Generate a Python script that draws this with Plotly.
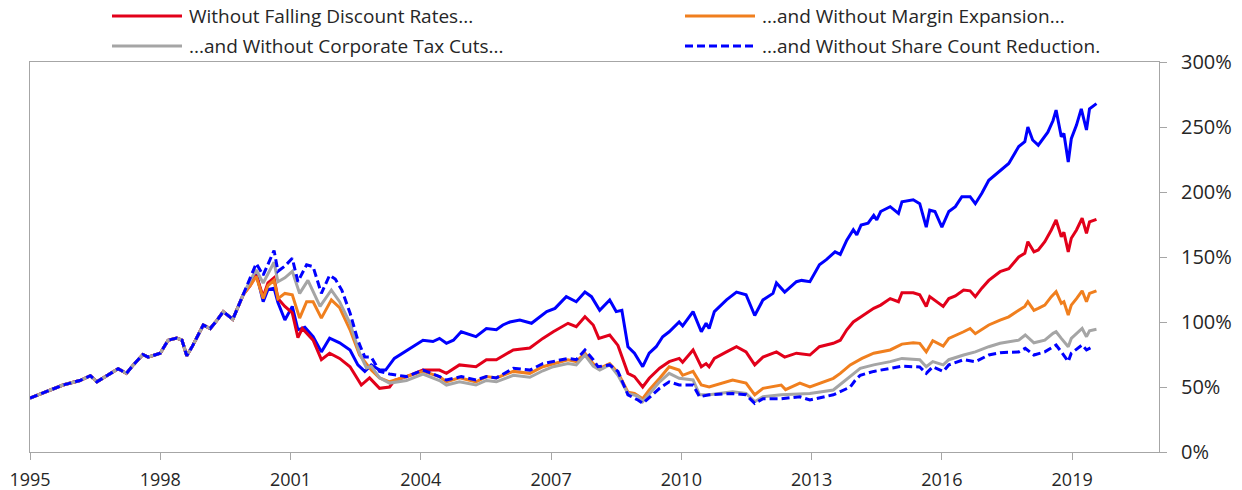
import plotly.graph_objects as go

# ---- data (decimal years, % values) ----
# shared path before the series diverge
early_years = [1995.0, 1995.26, 1995.54, 1995.76, 1996.15, 1996.39, 1996.54, 1996.77,
               1997.03, 1997.22, 1997.38, 1997.6, 1997.72, 1998.0, 1998.18, 1998.38,
               1998.5, 1998.61, 1998.75, 1998.99, 1999.15, 1999.3, 1999.45, 1999.67, 1999.91]
early_vals = [41.5, 45, 49, 51.5, 55, 58.7, 54, 59,
              64, 60.5, 67, 75, 73, 76, 86, 87.6,
              86, 74, 82, 97.7, 95, 101, 108, 102, 121]

sp500_years = [2000.07, 2000.21, 2000.37, 2000.48, 2000.62, 2000.71, 2000.87, 2001.04, 2001.17, 2001.33,
               2001.52, 2001.71, 2001.9, 2002.13, 2002.37, 2002.55, 2002.71, 2002.86, 2003.05, 2003.19,
               2003.39, 2003.62, 2003.77, 2004.05, 2004.28, 2004.43, 2004.59, 2004.75, 2004.93, 2005.27,
               2005.51, 2005.74, 2005.89, 2006.05, 2006.28, 2006.55, 2006.9, 2007.09, 2007.35, 2007.58,
               2007.78, 2007.93, 2008.12, 2008.35, 2008.5, 2008.63, 2008.77, 2008.92, 2009.11, 2009.26,
               2009.42, 2009.57, 2009.72, 2009.95, 2010.03, 2010.27, 2010.46, 2010.57, 2010.64, 2010.76,
               2011.04, 2011.27, 2011.49, 2011.69, 2011.88, 2012.11, 2012.19, 2012.38, 2012.65, 2012.77,
               2012.96, 2013.18, 2013.34, 2013.54, 2013.66, 2013.81, 2013.96, 2014.04, 2014.14, 2014.3,
               2014.43, 2014.5, 2014.59, 2014.81, 2015.0, 2015.08, 2015.34, 2015.49, 2015.64, 2015.72,
               2015.84, 2016.0, 2016.16, 2016.31, 2016.46, 2016.65, 2016.77, 2016.92, 2017.08, 2017.31,
               2017.54, 2017.77, 2017.91, 2017.98, 2018.09, 2018.22, 2018.37, 2018.44, 2018.56, 2018.63,
               2018.75, 2018.81, 2018.91, 2018.98, 2019.1, 2019.21, 2019.33, 2019.4, 2019.56]
sp500_vals = [130, 138, 115.6, 125, 126, 115, 101.5, 112, 94, 96,
              88.7, 77, 87.6, 84, 78.5, 67, 62, 67, 63, 63,
              72, 77, 80, 86, 85, 87.4, 83.6, 86, 92.5, 88.7,
              95, 94, 97.7, 100, 101.5, 99, 108, 110.5, 119.5, 115.6,
              123, 119.5, 109, 117, 108, 109, 81, 76, 65.6, 76,
              81, 88.7, 92.5, 100, 97, 108, 92.5, 99, 95, 108,
              117, 123, 121, 105, 117, 122, 130, 123, 131, 132,
              131, 144, 148, 154, 152, 163, 171, 167, 174.6, 176,
              182, 178.5, 185, 188.7, 183.6, 192.5, 194, 191, 173, 186,
              185, 173, 185, 188.7, 196.4, 196.4, 191, 199, 209, 215.6,
              222, 235, 238.7, 250, 240, 236, 242.5, 246, 255, 263,
              242.5, 245, 223, 241, 251.5, 264, 247.7, 264, 268]

discount_years = [2000.07, 2000.21, 2000.37, 2000.48, 2000.62, 2000.71, 2000.87, 2001.04, 2001.17, 2001.27,
                  2001.52, 2001.71, 2001.9, 2002.13, 2002.37, 2002.63, 2002.82, 2003.05, 2003.28, 2003.39,
                  2003.67, 2004.05, 2004.43, 2004.59, 2004.89, 2005.27, 2005.51, 2005.74, 2006.13, 2006.51,
                  2006.81, 2007.05, 2007.39, 2007.58, 2007.78, 2007.97, 2008.1, 2008.35, 2008.54, 2008.77,
                  2008.92, 2009.11, 2009.26, 2009.5, 2009.72, 2009.95, 2010.03, 2010.27, 2010.46, 2010.57,
                  2010.64, 2010.76, 2011.04, 2011.27, 2011.49, 2011.69, 2011.88, 2012.19, 2012.38, 2012.65,
                  2012.96, 2013.18, 2013.5, 2013.66, 2013.81, 2013.96, 2014.14, 2014.43, 2014.59, 2014.81,
                  2015.0, 2015.08, 2015.34, 2015.49, 2015.64, 2015.72, 2016.03, 2016.16, 2016.31, 2016.5,
                  2016.65, 2016.77, 2016.92, 2017.08, 2017.34, 2017.54, 2017.77, 2017.91, 2017.98, 2018.12,
                  2018.22, 2018.37, 2018.52, 2018.63, 2018.75, 2018.81, 2018.91, 2018.98, 2019.1, 2019.23,
                  2019.33, 2019.4, 2019.56]
discount_vals = [128, 136, 119.5, 130, 134, 118, 112, 107, 88, 95,
                 86, 71, 76, 72, 65.6, 51.5, 57, 49, 50, 55,
                 58, 63, 63, 60.5, 67, 65.6, 71, 71, 78.5, 80,
                 87.4, 92.5, 99, 96.4, 104, 97.7, 87.4, 90, 82, 60.5,
                 58, 50, 56.7, 64.4, 69.5, 72, 69, 78.5, 65.6, 68,
                 65.6, 72, 77, 81, 77, 67, 73, 77, 73, 76,
                 74.6, 81, 83.6, 86, 94, 100, 104, 110.5, 113, 118,
                 115.6, 122.5, 122.5, 121, 112, 119.5, 112, 118, 120, 124.6,
                 124, 119.5, 126, 132, 138.7, 141, 150, 152.8, 161.8, 154,
                 155.4, 161.8, 170.8, 178.5, 165.6, 169, 154, 164.4, 170.8, 179.8,
                 168.2, 177, 179]

margin_years = [2000.07, 2000.21, 2000.37, 2000.48, 2000.62, 2000.71, 2000.87, 2001.04, 2001.21, 2001.37,
                2001.52, 2001.71, 2001.94, 2002.13, 2002.37, 2002.59, 2002.86, 2003.05, 2003.28, 2003.67,
                2004.05, 2004.43, 2004.59, 2004.89, 2005.27, 2005.51, 2005.74, 2006.13, 2006.51, 2006.81,
                2007.05, 2007.39, 2007.58, 2007.78, 2007.97, 2008.12, 2008.35, 2008.54, 2008.77, 2008.92,
                2009.11, 2009.26, 2009.5, 2009.72, 2009.95, 2010.03, 2010.27, 2010.46, 2010.64, 2011.18,
                2011.49, 2011.69, 2011.88, 2012.3, 2012.4, 2012.73, 2012.96, 2013.5, 2013.66, 2013.89,
                2014.16, 2014.43, 2014.81, 2015.08, 2015.34, 2015.49, 2015.64, 2015.79, 2016.03, 2016.16,
                2016.5, 2016.65, 2016.77, 2017.08, 2017.34, 2017.54, 2017.77, 2017.91, 2017.98, 2018.12,
                2018.22, 2018.37, 2018.52, 2018.63, 2018.75, 2018.81, 2018.91, 2018.98, 2019.1, 2019.23,
                2019.33, 2019.4, 2019.56]
margin_vals = [128, 135, 118, 128, 132, 118, 122, 121, 103, 115.6,
               115.6, 103, 117, 111, 94, 74.6, 63, 57, 54, 58,
               62, 58, 54, 57, 54, 58, 57, 62, 60.5, 65.6,
               68, 71, 69.5, 76, 68, 64.4, 68, 61, 46, 45,
               41, 47.7, 56.7, 65.6, 63, 59, 62, 51.5, 50, 55.4,
               53, 44, 49, 51.5, 48, 53, 50, 56.7, 60.5, 67,
               72, 76, 78.5, 83, 84, 83.6, 77, 85.6, 81.5, 87.4,
               92.5, 95, 91, 97.7, 101.5, 104, 109, 112, 115.6, 109,
               110.5, 113, 119.5, 123.3, 114.4, 115.6, 105.4, 113, 118, 124,
               115.6, 122, 124]

tax_years = [2000.07, 2000.21, 2000.37, 2000.48, 2000.62, 2000.71, 2000.87, 2001.04, 2001.21, 2001.4,
             2001.68, 2001.94, 2002.13, 2002.37, 2002.59, 2002.75, 2002.86, 2003.05, 2003.28, 2003.67,
             2004.05, 2004.43, 2004.59, 2004.89, 2005.27, 2005.51, 2005.74, 2006.13, 2006.51, 2006.81,
             2007.05, 2007.39, 2007.58, 2007.78, 2007.97, 2008.12, 2008.35, 2008.54, 2008.77, 2009.0,
             2009.11, 2009.5, 2009.72, 2009.95, 2010.27, 2010.42, 2010.64, 2011.18, 2011.49, 2011.69,
             2011.88, 2012.3, 2012.73, 2012.96, 2013.5, 2013.89, 2014.12, 2014.43, 2014.81, 2015.08,
             2015.49, 2015.64, 2015.79, 2016.03, 2016.16, 2016.5, 2016.77, 2017.08, 2017.34, 2017.77,
             2017.92, 2018.12, 2018.37, 2018.56, 2018.63, 2018.75, 2018.91, 2018.98, 2019.23, 2019.33,
             2019.4, 2019.56]
tax_vals = [132, 140, 130, 137, 146, 131, 134, 139, 122, 132,
            112, 124.6, 115.6, 99, 76, 64.6, 66, 57, 53, 55,
            60, 55, 51.5, 54, 51.5, 55, 54, 59, 57.5, 62.5,
            65.6, 68, 67, 74.6, 66, 63, 67, 59, 45, 43,
            38.7, 54, 60.5, 56.7, 55.4, 44, 44, 46.4, 45, 38.7,
            42.5, 44, 45, 45, 47.7, 58, 64.4, 67, 69.5, 72,
            71, 65.6, 69.5, 67, 71, 74.6, 77, 81, 83.6, 86,
            90, 84, 86, 91.3, 92.5, 87.4, 81, 87.4, 95, 88.7,
            93.3, 94.4]

buyback_years = [2000.07, 2000.21, 2000.37, 2000.48, 2000.62, 2000.71, 2000.87, 2001.04, 2001.17, 2001.37,
                 2001.52, 2001.71, 2001.9, 2002.03, 2002.18, 2002.37, 2002.55, 2002.71, 2002.86, 2003.05,
                 2003.28, 2003.67, 2004.05, 2004.43, 2004.59, 2004.93, 2005.27, 2005.51, 2005.74, 2006.13,
                 2006.51, 2006.81, 2007.05, 2007.39, 2007.58, 2007.78, 2007.97, 2008.08, 2008.35, 2008.54,
                 2008.77, 2009.0, 2009.11, 2009.5, 2009.72, 2009.95, 2010.27, 2010.42, 2010.64, 2011.18,
                 2011.49, 2011.69, 2011.88, 2012.3, 2012.73, 2012.96, 2013.5, 2013.89, 2014.0, 2014.12,
                 2014.43, 2014.81, 2015.08, 2015.49, 2015.64, 2015.79, 2016.03, 2016.16, 2016.5, 2016.77,
                 2017.08, 2017.34, 2017.77, 2017.92, 2018.12, 2018.37, 2018.63, 2018.75, 2018.91, 2018.98,
                 2019.23, 2019.33, 2019.47]
buyback_vals = [135, 145, 136, 144, 155, 139, 143, 149, 131, 144,
                142.5, 122, 136, 133, 124.6, 107, 86, 73, 73, 62,
                60, 58, 63, 58, 55.4, 58, 55.4, 58, 57, 64.4,
                63, 68, 69.5, 72, 71, 78.5, 71, 65.6, 67, 62,
                44, 40, 37.4, 49, 54, 51.5, 51.5, 42.5, 44, 45,
                44, 37.4, 41, 41, 42.5, 40, 44, 50, 55, 59,
                62, 64.4, 66, 65.4, 60.5, 65.6, 62, 67, 71, 69.5,
                74.6, 76.4, 77, 79.8, 74.6, 77, 82.3, 77, 69.5, 76,
                82.3, 78.5, 81]

x_ticks = [1995, 1998, 2001, 2004, 2007, 2010, 2013, 2016, 2019]
y_ticks = [0, 50, 100, 150, 200, 250, 300]

series = [
    ("S&P 500", sp500_years, sp500_vals, "#0000FF", "solid"),
    ("Without Falling Discount Rates...", discount_years, discount_vals, "#E2001A", "solid"),
    ("...and Without Margin Expansion...", margin_years, margin_vals, "#F07F1E", "solid"),
    ("...and Without Corporate Tax Cuts...", tax_years, tax_vals, "#A5A5A5", "solid"),
    ("...and Without Share Count Reduction.", buyback_years, buyback_vals, "#0000FF", "8px,4px"),
]

FONT = "Open Sans, Lato, DejaVu Sans, sans-serif"
TXT = "#262626"
AX = "#A6A6A6"

fig = go.Figure()
for name, xs, vs, color, dash in series:
    fig.add_trace(go.Scatter(
        x=early_years + xs, y=early_vals + vs, mode="lines", name=name,
        line=dict(color=color, width=3, dash=dash), showlegend=False,
        hovertemplate="%{x:.2f}: %{y:.0f}%<extra>" + name + "</extra>"))

# manual legend (two columns) above the plot area
W, H = 1242, 490
ML, MR, MT, MB = 30, 83, 62, 38
pw, ph = W - ML - MR, H - MT - MB
def px2paper_x(px):
    return (px - ML) / pw
def px2paper_y(py):
    return (H - MB - py) / ph

legend_items = series[1:]
legend_pos = [(112, 16), (685, 16), (112, 46), (685, 46)]
for (name, _, _, color, dash), (lx, ly) in zip(legend_items, legend_pos):
    fig.add_shape(type="line", xref="paper", yref="paper",
                  x0=px2paper_x(lx), x1=px2paper_x(lx + 70),
                  y0=px2paper_y(ly), y1=px2paper_y(ly),
                  line=dict(color=color, width=3, dash=dash))
    fig.add_annotation(xref="paper", yref="paper", x=px2paper_x(lx + 75), y=px2paper_y(ly),
                       text=name, showarrow=False, xanchor="left", yanchor="middle",
                       font=dict(family=FONT, size=19, color=TXT))

fig.update_layout(
    width=W, height=H,
    margin=dict(l=ML, r=MR, t=MT, b=MB, autoexpand=False),
    paper_bgcolor="white", plot_bgcolor="white",
    font=dict(family=FONT, size=18, color=TXT),
    showlegend=False,
    xaxis=dict(range=[1995, 2021], tickvals=x_ticks, ticktext=[str(t) for t in x_ticks],
               automargin=False,
               showgrid=False, zeroline=False, showline=True, linecolor=AX, linewidth=1,
               mirror=True, ticks="outside", ticklen=7, tickcolor=AX, ticklabelstandoff=4,
               tickfont=dict(family=FONT, size=18, color=TXT)),
    yaxis=dict(range=[0, 300], tickvals=y_ticks, ticktext=[f"{t}%" for t in y_ticks],
               side="right", automargin=False,
               showgrid=False, zeroline=False, showline=True, linecolor=AX, linewidth=1,
               mirror=True, ticks="outside", ticklen=7, tickcolor=AX, ticklabelstandoff=10,
               tickfont=dict(family=FONT, size=20, color=TXT)),
)

fig.write_html("out.html", config={"displayModeBar": False},
               post_script="document.body.style.margin='0';document.body.style.padding='0';")
